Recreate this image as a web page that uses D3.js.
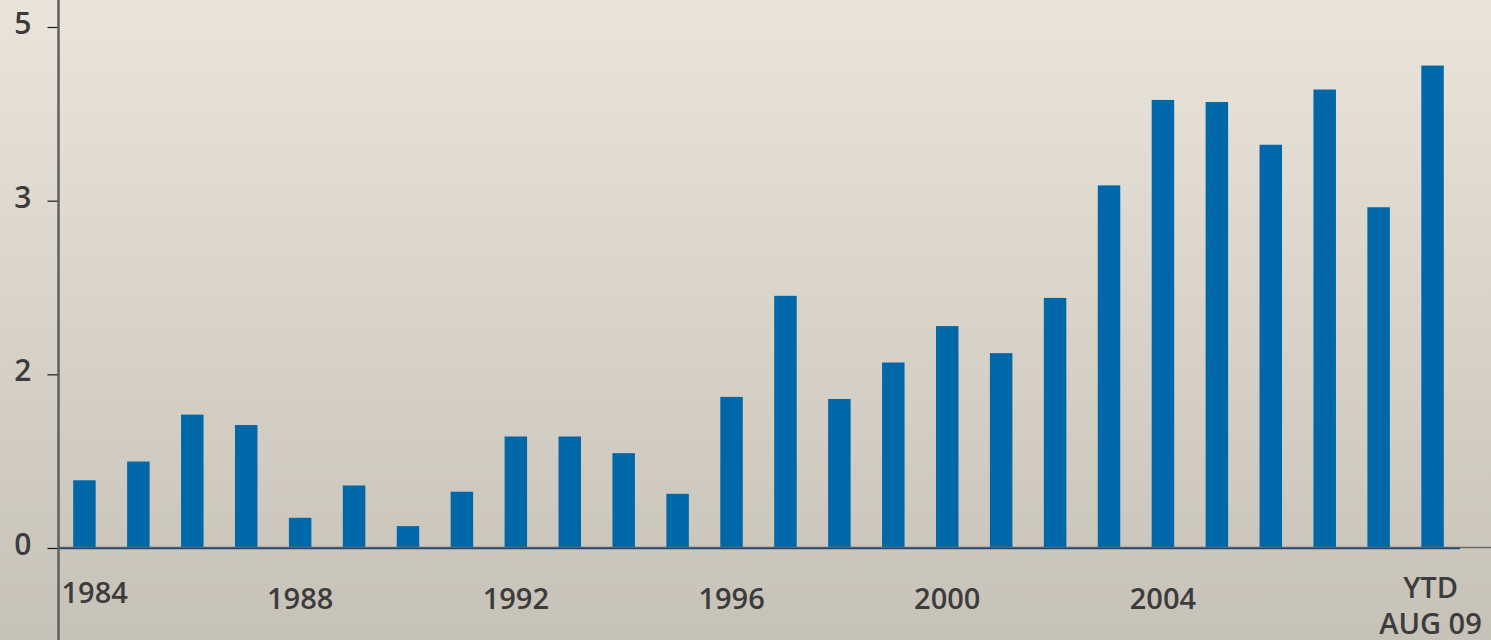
<!DOCTYPE html>
<html>
<head>
<meta charset="utf-8">
<script src="https://cdn.jsdelivr.net/npm/d3@7"></script>
<style>
  html, body { margin: 0; padding: 0; background: #d8d2c8; }
  svg { display: block; }
  text { font-family: "Open Sans", "Noto Sans", sans-serif; font-weight: 600; fill: #3c3c3c; }
</style>
</head>
<body>
<svg id="chart" width="1491" height="640"></svg>
<script>
// Annual values, 1984 through year-to-date August 2009
const years = ["1984","1985","1986","1987","1988","1989","1990","1991","1992","1993",
  "1994","1995","1996","1997","1998","1999","2000","2001","2002","2003",
  "2004","2005","2006","2007","2008","YTD"];
const values = [0.65, 0.83, 1.28, 1.18, 0.29, 0.60, 0.21, 0.54, 1.07, 1.07,
  0.91, 0.52, 1.45, 2.42, 1.43, 1.78, 2.13, 1.87, 2.40, 3.48,
  4.30, 4.28, 3.87, 4.40, 3.27, 4.63];
// Labelled categories on the horizontal axis
const xTickYears = ["1984","1988","1992","1996","2000","2004","YTD"];
const ytdLabel = ["YTD", "AUG 09"];
// Vertical axis: domain split into three equal steps
const yMax = 5;
const yTicks = [0, 5/3, 10/3, 5];

const W = 1491, H = 640;
const axisX = 58.5, baseY = 548, topY = 27;

const svg = d3.select("#chart");

// Background gradient
const defs = svg.append("defs");
const grad = defs.append("linearGradient")
  .attr("id", "bg").attr("x1", 0).attr("y1", 0).attr("x2", 0).attr("y2", 1);
grad.append("stop").attr("offset", "0%").attr("stop-color", "#eae4da");
grad.append("stop").attr("offset", "100%").attr("stop-color", "#c7c2b8");
svg.append("rect").attr("width", W).attr("height", H).attr("fill", "url(#bg)");

const x = d3.scaleBand()
  .domain(years)
  .range([73.2, 1443.8])
  .paddingInner(0.583)
  .paddingOuter(0);

const y = d3.scaleLinear().domain([0, yMax]).range([baseY, topY]);

// Bars
svg.append("g").selectAll("rect")
  .data(years.map((yr, i) => ({ yr, v: values[i] })))
  .join("rect")
  .attr("x", d => x(d.yr))
  .attr("width", x.bandwidth())
  .attr("y", d => y(d.v))
  .attr("height", d => y(0) - y(d.v))
  .attr("fill", "#0068a8");

// Baseline
svg.append("line")
  .attr("x1", axisX).attr("x2", W)
  .attr("y1", baseY - 0.5).attr("y2", baseY - 0.5)
  .attr("stroke", "#6a6a6a").attr("stroke-width", 1.5);
svg.append("line")
  .attr("x1", axisX).attr("x2", 1460)
  .attr("y1", baseY + 0.5).attr("y2", baseY + 0.5)
  .attr("stroke", "#1d4a7a").attr("stroke-width", 1.5);

// Vertical axis
const yAxis = d3.axisLeft(y)
  .tickValues(yTicks)
  .tickFormat(d3.format(".0f"))
  .tickSize(11)
  .tickPadding(16);
const gy = svg.append("g")
  .attr("transform", `translate(${axisX},0)`)
  .call(yAxis);
gy.select(".domain").remove();
gy.selectAll(".tick line").attr("stroke", "#1a1a1a").attr("stroke-width", 1.2);
gy.selectAll(".tick text")
  .attr("font-size", 30)
  .attr("dy", "0.22em")
  .style("fill", "#3c3c3c");

svg.append("line")
  .attr("x1", axisX).attr("x2", axisX)
  .attr("y1", 0).attr("y2", H)
  .attr("stroke", "#5f5f5f").attr("stroke-width", 2.5);

// Horizontal axis labels
const xAxis = d3.axisBottom(x)
  .tickValues(xTickYears)
  .tickSize(0)
  .tickPadding(0);
const gx = svg.append("g")
  .attr("transform", `translate(0,${baseY})`)
  .call(xAxis);
gx.select(".domain").remove();
gx.selectAll(".tick text")
  .attr("font-size", 29)
  .attr("y", 61)
  .attr("dy", 0)
  .style("fill", "#3c3c3c");

// First label sits right against the vertical axis, a little higher
gx.selectAll(".tick").filter(d => d === years[0]).select("text")
  .attr("text-anchor", "start")
  .attr("x", axisX + 3 - x(years[0]) - x.bandwidth() / 2)
  .attr("y", 55);

// Year-to-date label on two lines
const ytdText = gx.selectAll(".tick").filter(d => d === "YTD").select("text");
ytdText.text(null).attr("y", 50);
ytdText.selectAll("tspan")
  .data(ytdLabel)
  .join("tspan")
  .attr("x", -2)
  .attr("dy", (d, i) => i === 0 ? 0 : 36)
  .text(d => d);
</script>
</body>
</html>
